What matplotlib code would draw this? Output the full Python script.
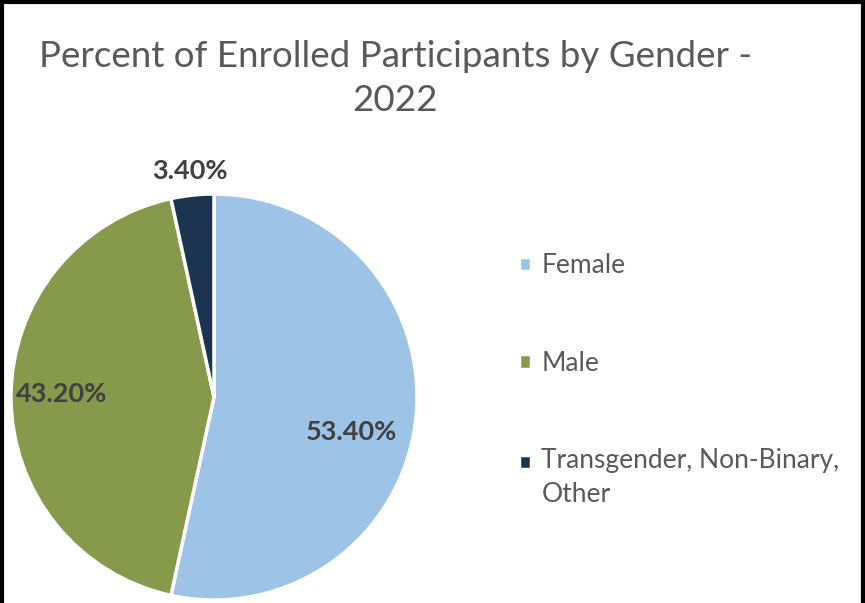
import matplotlib
matplotlib.use("Agg")
import matplotlib.pyplot as plt
import numpy as np

# data
categories = ['Female', 'Male', 'Transgender, Non-Binary,\nOther']
percents = [53.4, 43.2, 3.4]
labels = ['53.40%', '43.20%', '3.40%']
colors = ['#9DC3E6', '#87994A', '#1B3550']

plt.rcParams['font.family'] = ['Lato', 'DejaVu Sans']

fig = plt.figure(figsize=(8.65, 6.03), dpi=100)

# pie axes, center ~(214, 397) px, radius ~203 px
ax = fig.add_axes([11 / 865, 3 / 603, 406 / 865, 406 / 603])
wedges, _ = ax.pie(percents, colors=colors, startangle=90, counterclock=False,
                   radius=1.0, wedgeprops=dict(edgecolor='white', linewidth=2.5))
ax.set_xlim(-1, 1)
ax.set_ylim(-1, 1)
ax.set_aspect('equal')
ax.axis('off')

# data labels (radial distance, angle shift) per wedge
label_pos = [(0.70, -8), (0.75, -1), (1.12, 0)]
for w, lab, (r, shift) in zip(wedges, labels, label_pos):
    ang = np.deg2rad((w.theta1 + w.theta2) / 2 + shift)
    ax.text(r * np.cos(ang), r * np.sin(ang), lab, ha='center', va='center',
            fontsize=19.5, fontweight='bold', color='#404040', clip_on=False)

fig.text(0.457, 0.870, 'Percent of Enrolled Participants by Gender -\n2022',
         ha='center', va='center', fontsize=26.5, color='#595959',
         linespacing=1.38)

leg = fig.legend(wedges, categories, loc='upper left', bbox_to_anchor=(0.600, 0.580),
                 frameon=False, fontsize=19, handlelength=0.45, handleheight=0.45,
                 handletextpad=0.4, labelspacing=2.75, labelcolor='#595959',
                 borderpad=0, borderaxespad=0)
for t in leg.get_texts():
    t.set_linespacing(1.45)
# marker of the two-line entry sits next to its first line
h = leg.legend_handles[2]
h.set_y(h.get_y() + 12)

# outer frame (black border on top, left, right)
for x0, y0, x1, y1 in [(0.002, 0, 0.002, 1), (0.998, 0, 0.998, 1), (0, 0.996, 1, 0.996)]:
    fig.add_artist(plt.Line2D([x0, x1], [y0, y1], color='black', linewidth=3,
                              transform=fig.transFigure))

fig.savefig('out.png', dpi=100, facecolor='white')
